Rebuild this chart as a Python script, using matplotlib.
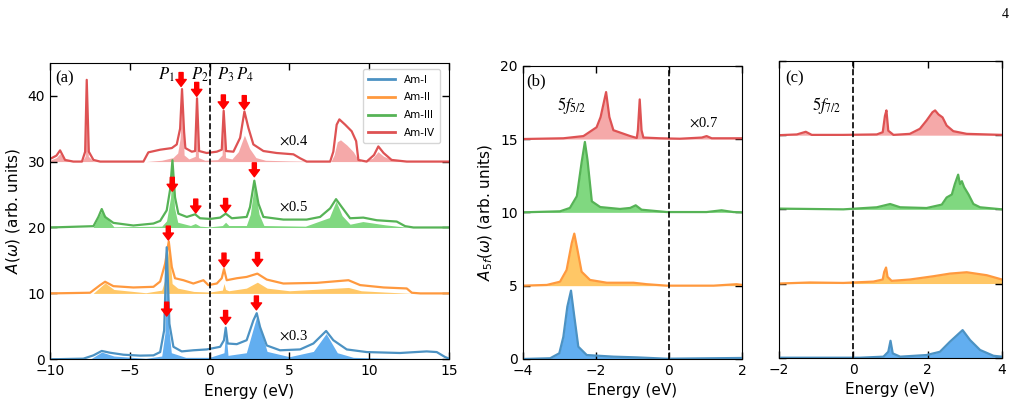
import matplotlib
matplotlib.use("Agg")
import matplotlib.pyplot as plt

# ---------------- panel (a): total spectra (line) + 5f part (fill) ----------------
a_red_e = [-10, -9.6, -9.37, -9.06, -8.54, -8.0, -7.8, -7.70, -7.57, -7.28, -6.86, -4.15, -3.84, -3.1,
           -2.37, -2.06, -1.85, -1.73, -1.6, -1.52, -1.12, -0.91, -0.79, -0.66, -0.18, 0.45, 0.76, 0.88,
           1.03, 1.49, 1.91, 2.18, 2.43, 2.74, 3.37, 4.2, 5.25, 5.67, 6.08, 7.55, 7.75, 7.96, 8.13, 8.49,
           8.9, 9.18, 9.32, 9.84, 10.3, 10.57, 10.9, 11.4, 12.35, 15]
a_red_v = [30.4, 30.9, 31.7, 30.25, 30.0, 30.0, 31.5, 42.4, 31.5, 30.25, 30.0, 30.0, 31.4, 31.8,
           32.05, 32.6, 35.0, 41.0, 34.5, 32.05, 31.5, 31.6, 39.6, 31.6, 31.3, 31.5, 31.8, 37.7,
           31.6, 31.5, 33.6, 37.6, 35.1, 32.6, 31.6, 31.3, 31.1, 30.5, 30.0, 30.0, 31.5, 35.6, 36.4, 35.6,
           34.6, 33.1, 30.25, 30.0, 31.0, 32.3, 31.3, 30.25, 30.0, 30.0]
a_red_fe = [-10, -9.6, -9.37, -9.1, -8.0, -7.8, -7.7, -7.6, -7.3, -4.0, -3.0, -2.3, -2.0, -1.85, -1.73,
            -1.6, -1.3, -0.9, -0.79, -0.7, -0.3, 0.5, 0.78, 0.88, 1.0, 1.4, 1.8, 2.18, 2.5, 2.9,
            3.5, 5, 7.6, 7.8, 8.0, 8.2, 8.6, 9.0, 9.25, 9.5, 10.2, 10.55, 10.9, 11.5, 15]
a_red_fv = [30.2, 30.6, 31.2, 30.3, 30.0, 30.8, 41.8, 30.8, 30.1, 30.0, 30.2, 30.6, 31.3, 33.5, 40.5,
            31.0, 30.4, 30.8, 39.0, 30.6, 30.2, 30.3, 31.0, 37.3, 30.6, 30.4, 31.5, 34.0, 32.0, 30.6,
            30.2, 30.1, 30.0, 31.0, 33.0, 33.3, 32.5, 31.5, 30.5, 30.0, 30.5, 31.5, 30.8, 30.2, 30.0]

a_green_e = [-10, -7.28, -6.97, -6.76, -6.55, -6.03, -4.78, -3.52, -3.1, -2.69, -2.48, -2.33, -2.17,
             -1.96, -1.43, -0.91, -0.6, 0.03, 0.66, 1.01, 1.39, 2.32, 2.53, 2.8, 3.06, 3.37, 4.62, 6.08,
             6.92, 7.55, 7.92, 8.28, 8.8, 9.63, 10.47, 11.72, 12.25, 12.77, 15]
a_green_v = [20.0, 20.2, 21.6, 22.8, 21.6, 20.7, 20.3, 20.6, 21.0, 22.6, 25.7, 30.2, 24.6,
             22.1, 21.6, 22.0, 21.4, 21.3, 21.5, 22.1, 21.4, 21.6, 23.1, 27.1, 23.6, 21.6, 21.2, 21.2,
             21.6, 22.9, 24.3, 23.1, 21.4, 21.5, 21.1, 20.9, 20.2, 20.0, 20.0]
a_green_fe = [-10, -7.3, -6.76, -6.0, -3.0, -2.7, -2.45, -2.33, -2.2, -2.0, -1.2, -0.9, -0.6, 0.0, 0.8,
              1.0, 1.2, 2.3, 2.55, 2.8, 3.1, 3.4, 6.0, 7.5, 7.92, 8.3, 8.8, 9.6, 11.0, 12.5, 15]
a_green_fv = [20.0, 20.0, 22.5, 20.1, 20.2, 21.0, 24.5, 29.5, 23.0, 20.8, 20.3, 20.6, 20.2, 20.1, 20.3,
              20.8, 20.3, 20.3, 22.0, 26.5, 22.0, 20.3, 20.2, 21.5, 24.0, 21.8, 20.5, 20.9, 20.4, 20.0, 20.0]

a_orange_e = [-10, -7.49, -6.86, -6.55, -6.03, -4.78, -3.52, -3.1, -2.79, -2.56, -2.37, -2.17, -1.64,
              -1.02, -0.39, -0.08, 0.45, 0.76, 0.9, 1.07, 1.7, 2.32, 2.99, 3.58, 4.62, 6.71, 8.7, 9.43,
              10.9, 12.35, 12.67, 13.2, 15]
a_orange_v = [10.0, 10.1, 11.26, 11.77, 11.1, 10.9, 11.0, 11.8, 14.5, 17.9, 14.0, 12.3, 12.0,
              11.5, 12.0, 11.26, 11.5, 12.3, 13.7, 12.0, 12.3, 12.5, 13.0, 12.1, 11.5, 11.6, 12.0, 11.26,
              10.9, 10.75, 10.1, 10.0, 10.0]
a_orange_fe = [-10, -7.3, -6.55, -6.0, -4.0, -3.0, -2.75, -2.56, -2.35, -2.0, -1.0, 0.0, 0.8, 0.9, 1.0,
               1.2, 2.3, 2.99, 3.6, 5.0, 8.7, 9.5, 11.0, 12.7, 15]
a_orange_fv = [10.0, 10.0, 11.6, 10.6, 10.1, 10.5, 12.5, 17.6, 11.5, 10.8, 10.3, 10.2, 10.5, 11.5, 10.6,
               10.4, 10.8, 11.7, 10.8, 10.4, 10.9, 10.4, 10.2, 10.0, 10.0]

a_blue_e = [-10, -7.91, -7.28, -6.76, -6.24, -5.4, -4.36, -3.52, -3.1, -2.85, -2.69, -2.52, -2.27,
            -1.75, -1.02, -0.18, 0.66, 0.9, 1.01, 1.13, 1.7, 2.32, 2.74, 2.95, 3.16, 3.58, 4.41, 5.67,
            6.5, 7.3, 7.75, 8.59, 9.84, 11.93, 13.6, 14.23, 14.75, 15]
a_blue_v = [0.0, 0.1, 0.6, 1.27, 1.0, 0.7, 0.56, 0.6, 1.1, 4.4, 17.0, 5.4, 1.9,
            1.2, 1.37, 1.5, 1.9, 2.9, 4.8, 2.4, 2.3, 2.9, 5.9, 7.0, 4.9, 2.1, 1.37, 1.5,
            2.4, 4.3, 2.9, 1.5, 1.1, 0.96, 1.2, 1.1, 0.35, 0.1]
a_blue_fe = [-10, -7.5, -6.76, -6.0, -4.0, -3.0, -2.8, -2.69, -2.55, -2.4, -1.5, 0.0, 0.9, 1.01, 1.15,
             2.3, 2.95, 3.6, 5.0, 6.5, 7.3, 8.0, 9.0, 12.0, 15]
a_blue_fv = [0.0, 0.0, 1.1, 0.5, 0.15, 0.5, 4.0, 16.5, 4.5, 1.0, 0.3, 0.3, 1.0, 4.5, 0.6,
             1.0, 6.5, 1.2, 0.4, 1.2, 3.9, 1.0, 0.3, 0.1, 0.0]

# red arrows in (a): energy and tip height
arrow_e = [-1.79, -0.81, 0.86, 2.17, -2.34, -0.87, 1.0, 2.8, -2.59, 0.9, 3.0, -2.69, 1.0, 2.93]
arrow_tip = [41.4, 39.9, 38.0, 37.9, 25.5, 22.2, 22.3, 27.7, 18.1, 14.0, 14.1, 6.56, 5.3, 7.5]
peak_labels = [r'$P_1$', r'$P_2$', r'$P_3$', r'$P_4$']
peak_label_e = [-2.69, -0.6, 1.0, 2.2]
scale_labels_a = [r'$\times$0.4', r'$\times$0.5', r'$\times$0.3']
scale_y_a = [33.2, 23.1, 3.5]

# ---------------- panel (b): 5f5/2 ----------------
b_red_e = [-4, -2.89, -2.34, -2.16, -1.98, -1.87, -1.72, -1.63, -1.52, -1.29, -1.06, -0.88, -0.85, -0.80,
           -0.75, -0.70, -0.24, 0.3, 0.9, 1.03, 1.17, 2.0]
b_red_v = [15.0, 15.05, 15.2, 15.5, 15.8, 16.5, 18.2, 16.5, 15.6, 15.4, 15.2, 15.07, 15.6, 17.7,
           15.6, 15.1, 15.05, 15.02, 15.1, 15.2, 15.05, 15.05]
b_green_e = [-4, -2.98, -2.71, -2.52, -2.39, -2.30, -2.23, -2.11, -1.88, -1.34, -1.06, -0.91, -0.75,
             -0.06, 1.03, 1.44, 1.76, 2.0]
b_green_v = [10.0, 10.07, 10.3, 11.1, 13.4, 14.8, 13.6, 10.75, 10.36, 10.23, 10.3, 10.48, 10.18,
             10.02, 10.02, 10.14, 10.02, 10.0]
b_orange_e = [-4, -3.34, -2.98, -2.8, -2.66, -2.59, -2.5, -2.39, -2.16, -1.7, -0.97, -0.61, -0.06,
              1.22, 1.85, 2.0]
b_orange_v = [5.0, 5.05, 5.27, 6.07, 7.9, 8.55, 7.4, 5.95, 5.39, 5.2, 5.2, 5.1, 5.0,
              5.0, 5.1, 5.05]
b_blue_e = [-4, -3.25, -3.0, -2.89, -2.78, -2.68, -2.6, -2.48, -2.25, -1.52, -0.88, -0.06, 2.0]
b_blue_v = [0.0, 0.05, 0.39, 1.5, 3.57, 4.66, 3.1, 0.84, 0.27, 0.16, 0.11, 0.02, 0.07]

# ---------------- panel (c): 5f7/2 ----------------
c_red_e = [-2, -1.52, -1.28, -1.12, -0.27, 0.63, 0.79, 0.85, 0.89, 0.94, 1.08, 1.52, 1.79, 1.97, 2.13,
           2.2, 2.29, 2.4, 2.51, 2.69, 3.05, 4.0]
c_red_v = [15.0, 15.05, 15.23, 15.02, 15.02, 15.05, 15.2, 16.3, 16.67, 15.3, 15.02, 15.09, 15.43, 15.99,
           16.55, 16.67, 16.4, 16.2, 15.65, 15.27, 15.09, 15.02]
c_green_e = [-2, -0.27, 0.63, 0.99, 1.26, 1.97, 2.38, 2.51, 2.65, 2.73, 2.82, 2.87, 2.92, 2.98, 3.1,
             3.23, 3.41, 4.0]
c_green_v = [10.05, 10.0, 10.14, 10.36, 10.14, 10.09, 10.32, 10.8, 11.0, 11.7, 12.34, 11.7, 11.9, 11.5,
             11.0, 10.36, 10.14, 10.0]
c_orange_e = [-2, -1.17, -0.27, 0.54, 0.79, 0.83, 0.88, 0.92, 1.03, 1.52, 2.15, 2.6, 3.05, 3.59, 4.0]
c_orange_v = [5.0, 5.07, 5.04, 5.13, 5.27, 5.78, 6.08, 5.45, 5.18, 5.27, 5.49, 5.67, 5.76, 5.56, 5.27]
c_blue_e = [-2, 0.18, 0.81, 0.94, 1.0, 1.06, 1.26, 1.97, 2.33, 2.6, 2.94, 3.14, 3.41, 3.77, 4.0]
c_blue_v = [0.0, 0.0, 0.07, 0.4, 1.14, 0.29, 0.07, 0.18, 0.4, 1.08, 1.86, 1.19, 0.52, 0.13, 0.07]

names = ['Am-I', 'Am-II', 'Am-III', 'Am-IV']
offsets = [0, 5, 10, 15]          # baselines in (b), (c)
offsets_a = [0, 10, 20, 30]       # baselines in (a)
line_c = ['#4c92c3', '#ff993e', '#56b356', '#de5253']
fill_c = ['#62aef0', '#ffc766', '#80d880', '#f5a9a9']

fig = plt.figure(figsize=(10.21, 4.04), dpi=100)
ax_a = fig.add_axes([0.049, 0.1106, 0.3908, 0.7342])
ax_b = fig.add_axes([0.512, 0.1114, 0.2148, 0.7260])
ax_c = fig.add_axes([0.763, 0.1146, 0.2184, 0.7344])

serif = 'Liberation Serif'

# (a) --- draw from top (red) to bottom (blue) so blue sits on top
a_lines = [(a_blue_e, a_blue_v), (a_orange_e, a_orange_v), (a_green_e, a_green_v), (a_red_e, a_red_v)]
a_fills = [(a_blue_fe, a_blue_fv), (a_orange_fe, a_orange_fv), (a_green_fe, a_green_fv), (a_red_fe, a_red_fv)]
handles = []
for i in [3, 2, 1, 0]:
    fe, fv = a_fills[i]
    ax_a.fill_between(fe, offsets_a[i], fv, color=fill_c[i], lw=0)
    le, lv = a_lines[i]
    ax_a.plot(le, lv, color=line_c[i], lw=1.6)
for i in range(4):
    h, = ax_a.plot([], [], color=line_c[i], lw=2, label=names[i])
    handles.append(h)

ax_a.axvline(0, color='k', ls='--', lw=1.2, zorder=2.5)
for e, t in zip(arrow_e, arrow_tip):
    ax_a.annotate('', xy=(e, t), xytext=(0, 10), textcoords='offset points',
                  arrowprops=dict(color='red', width=2.9, headwidth=7.5, headlength=5, shrink=0),
                  zorder=5)
for lab, e in zip(peak_labels, peak_label_e):
    ax_a.text(e, 43.1, lab, ha='center', va='center', fontsize=12, math_fontfamily='stix')
for lab, y in zip(scale_labels_a, scale_y_a):
    ax_a.text(5.24, y, lab, ha='center', va='center', fontsize=10.5, math_fontfamily='stix',
              family=serif)
ax_a.text(0.012, 0.975, '(a)', transform=ax_a.transAxes, ha='left', va='top', fontsize=12, family=serif)
ax_a.legend(handles=handles, loc='upper right', bbox_to_anchor=(0.99, 0.995), fontsize=7.5,
            handlelength=2.6, labelspacing=0.75, borderpad=0.5)
ax_a.set_xlim(-10, 15)
ax_a.set_ylim(0, 45)
ax_a.set_xticks([-10, -5, 0, 5, 10, 15])
ax_a.set_yticks([0, 10, 20, 30, 40])
ax_a.set_xlabel('Energy (eV)', fontsize=11)
ax_a.set_ylabel(r'$A(\omega)$ (arb. units)', fontsize=11)

# (b)
b_data = [(b_blue_e, b_blue_v), (b_orange_e, b_orange_v), (b_green_e, b_green_v), (b_red_e, b_red_v)]
for i in [3, 2, 1, 0]:
    e, v = b_data[i]
    ax_b.fill_between(e, offsets[i], v, color=fill_c[i], lw=0)
    ax_b.plot(e, v, color=line_c[i], lw=1.6)
ax_b.axvline(0, color='k', ls='--', lw=1.2, zorder=2.5)
ax_b.text(0.94, 16.1, r'$\times$0.7', ha='center', va='center', fontsize=10.5,
          math_fontfamily='stix', family=serif)
ax_b.text(-2.66, 17.3, r'$5f_{5/2}$', ha='center', va='center', fontsize=12, math_fontfamily='stix')
ax_b.text(0.018, 0.975, '(b)', transform=ax_b.transAxes, ha='left', va='top', fontsize=12, family=serif)
ax_b.set_xlim(-4, 2)
ax_b.set_ylim(0, 20)
ax_b.set_xticks([-4, -2, 0, 2])
ax_b.set_yticks([0, 5, 10, 15, 20])
ax_b.set_xlabel('Energy (eV)', fontsize=11)
ax_b.set_ylabel(r'$A_{5f}(\omega)$ (arb. units)', fontsize=11)

# (c)
c_data = [(c_blue_e, c_blue_v), (c_orange_e, c_orange_v), (c_green_e, c_green_v), (c_red_e, c_red_v)]
for i in [3, 2, 1, 0]:
    e, v = c_data[i]
    ax_c.fill_between(e, offsets[i], v, color=fill_c[i], lw=0)
    ax_c.plot(e, v, color=line_c[i], lw=1.6)
ax_c.axvline(0, color='k', ls='--', lw=1.2, zorder=2.5)
ax_c.text(-0.72, 17.0, r'$5f_{7/2}$', ha='center', va='center', fontsize=12, math_fontfamily='stix')
ax_c.text(0.027, 0.97, '(c)', transform=ax_c.transAxes, ha='left', va='top', fontsize=12, family=serif)
ax_c.set_xlim(-2, 4)
ax_c.set_ylim(0, 20)
ax_c.set_xticks([-2, 0, 2, 4])
ax_c.set_yticks([0, 5, 10, 15, 20])
ax_c.set_yticklabels([])
ax_c.set_xlabel('Energy (eV)', fontsize=11)

for ax in (ax_a, ax_b, ax_c):
    ax.tick_params(direction='in', top=True, right=True, length=5, width=1, labelsize=10)

fig.text(1005 / 1021, 1 - 15 / 404, '4', ha='center', va='center', fontsize=10, family=serif)

fig.savefig('out.png', dpi=100)
